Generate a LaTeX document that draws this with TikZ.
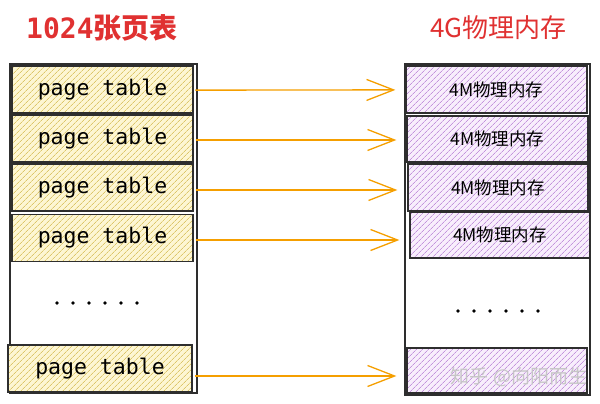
\documentclass[tikz,border=0pt]{standalone}
\usepackage{fontspec}
\setmonofont{DejaVu Sans Mono}
\newfontfamily\cjk{Noto Sans CJK SC}
\usetikzlibrary{arrows.meta,patterns.meta}
\definecolor{titlered}{HTML}{E03131}
\definecolor{arrorange}{HTML}{F59F00}
\definecolor{ylbase}{HTML}{FDF6D3}
\definecolor{ylhatch}{HTML}{DCC66A}
\definecolor{pubase}{HTML}{F8EEFC}
\definecolor{puhatch}{HTML}{C394DC}
\definecolor{edge}{HTML}{2E2E2E}
\tikzset{
  container/.style={draw=edge,line width=1.3pt,minimum width=#1,inner sep=0pt},
  ptrow/.style={draw=edge,line width=1.3pt,inner sep=0pt,minimum height=47pt,
    preaction={fill=ylbase},pattern={Lines[angle=45,distance=4pt,line width=0.7pt]},pattern color=ylhatch,
    font=\ttfamily\fontsize{21.5}{23}\selectfont},
  memrow/.style={draw=edge,line width=1.3pt,inner sep=0pt,minimum height=46pt,
    preaction={fill=pubase},pattern={Lines[angle=45,distance=4pt,line width=0.7pt]},pattern color=puhatch,
    font=\cjk\fontsize{17.5}{19}\selectfont},
  arr/.style={draw=arrorange,color=arrorange,line width=1.4pt,-{Straight Barb[length=27pt,width=21pt,line width=1.3pt]},shorten <=2pt,shorten >=10pt},
  title/.style={text=titlered,anchor=west,inner sep=0pt},
  dotmark/.style={fill=black,draw=none,circle,minimum size=3.6pt,inner sep=0pt}
}
\begin{document}
\begin{tikzpicture}[x=1pt,y=-1pt]
\useasboundingbox (0,0) rectangle (600,404);
\fill[white] (0,0) rectangle (600,404);
% titles
\node[title,font=\fontsize{28}{30}\selectfont] (t1) at (26,28) {{\ttfamily\bfseries 1024}{\cjk\bfseries 张页表}};
\node[title,font=\cjk\fontsize{26}{30}\selectfont] (t2) at (430,28) {4G物理内存};
% containers
\node[container=187pt,minimum height=329pt] (lc) at (103.5,228.5) {};
\node[container=185pt,minimum height=331pt] (rc) at (497.5,229.5) {};
% left rows
\node[ptrow,minimum width=181pt] (l1) at (102.5,89.5) {page table};
\node[ptrow,minimum width=181pt] (l2) at (102.5,138.5) {page table};
\node[ptrow,minimum width=181pt] (l3) at (102.5,187.5) {page table};
\node[ptrow,minimum width=181pt] (l4) at (102.5,238) {page table};
\node[ptrow,minimum width=184pt] (l5) at (100,368.5) {page table};
% right rows
\node[memrow,minimum width=181pt,minimum height=47pt] (r1) at (496.5,89.5) {4M物理内存};
\node[memrow,minimum width=181pt] (r2) at (497.5,139) {4M物理内存};
\node[memrow,minimum width=180pt,minimum height=47pt] (r3) at (498,187.5) {4M物理内存};
\node[memrow,minimum width=180pt] (r4) at (500,235) {4M物理内存};
\node[memrow,minimum width=180pt,minimum height=45pt] (r5) at (497,370.5) {};
% dots
\foreach \i in {0,...,5} {
  \node[dotmark] (ld\i) at (57+16*\i,303) {};
  \node[dotmark] (rd\i) at (458+16*\i,311) {};
}
% arrows
\begin{scope}[color=arrorange]
\draw[arr] ([yshift=-0.6pt]l1.east) -- ([yshift=-0.4pt]r1.west);
\draw[arr] ([yshift=-1.5pt]l2.east) -- ([yshift=-1pt]r2.west);
\draw[arr] ([yshift=-2.5pt]l3.east) -- ([yshift=-2.5pt]r3.west);
\draw[arr] ([yshift=-2pt]l4.east) -- ([yshift=-5pt]r4.west);
\draw[arr] ([yshift=-7.5pt]l5.east) -- ([yshift=-5.5pt]r5.west);
\end{scope}
\node[text=gray!45,font=\cjk\fontsize{19}{21}\selectfont,inner sep=0pt] (wm) at (519,377) {知乎 @向阳而生};
\end{tikzpicture}
\end{document}
